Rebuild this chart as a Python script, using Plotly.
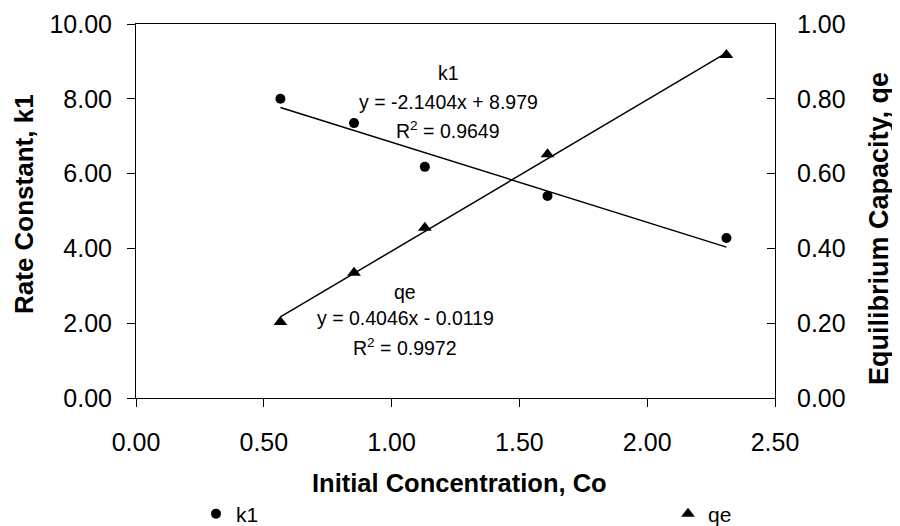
import plotly.graph_objects as go

# ---- data ----
conc = [0.565, 0.853, 1.13, 1.61, 2.31]
k1_values = [8.00, 7.35, 6.18, 5.40, 4.28]
qe_values = [0.203, 0.335, 0.455, 0.652, 0.917]

k1_slope, k1_intercept, k1_r2 = -2.1404, 8.979, 0.9649
qe_slope, qe_intercept, qe_r2 = 0.4046, -0.0119, 0.9972

x_title = "Initial Concentration, Co"
y_title = "Rate Constant, k1"
y2_title = "Equilibrium Capacity, qe"

FONT = "Liberation Sans, Arial, sans-serif"

x_fit = [min(conc), max(conc)]
k1_fit = [k1_slope * x + k1_intercept for x in x_fit]
qe_fit = [qe_slope * x + qe_intercept for x in x_fit]

fig = go.Figure()
fig.add_trace(go.Scatter(x=x_fit, y=k1_fit, mode="lines", line=dict(color="black", width=1.5),
                         showlegend=False, hoverinfo="skip"))
fig.add_trace(go.Scatter(x=x_fit, y=qe_fit, mode="lines", line=dict(color="black", width=1.5),
                         showlegend=False, hoverinfo="skip", yaxis="y2"))
fig.add_trace(go.Scatter(x=conc, y=k1_values, mode="markers", name="k1",
                         marker=dict(symbol="circle", size=10, color="black"), legend="legend"))
fig.add_trace(go.Scatter(x=conc, y=qe_values, mode="markers", name="qe", yaxis="y2",
                         marker=dict(symbol="triangle-up", size=12, color="black"), legend="legend2"))

def fmt(v):
    return f"- {abs(v)}" if v < 0 else f"+ {v}"

ann_font = dict(family=FONT, size=19.5, color="black")
annotations = [
    dict(x=0.489, y=(398 - 73) / 374, text="k1"),
    dict(x=0.489, y=(398 - 102) / 374, text=f"y = {k1_slope}x {fmt(k1_intercept)}"),
    dict(x=0.489, y=(398 - 130) / 374, text=f"R<sup>2</sup> = {k1_r2}"),
    dict(x=0.421, y=(398 - 292) / 374, text="qe"),
    dict(x=0.421, y=(398 - 318) / 374, text=f"y = {qe_slope}x {fmt(qe_intercept)}"),
    dict(x=0.421, y=(398 - 347) / 374, text=f"R<sup>2</sup> = {qe_r2}"),
]
for a in annotations:
    a.update(xref="paper", yref="paper", showarrow=False, xanchor="center", yanchor="middle", font=ann_font)

annotations += [
    dict(x=(459 - 136) / 639, y=(398 - 483) / 374, xref="paper", yref="paper", showarrow=False,
         text=f"<b>{x_title}</b>", font=dict(family=FONT, size=25.5, color="black"),
         xanchor="center", yanchor="middle"),
    dict(x=(24 - 136) / 639, y=(398 - 204) / 374, xref="paper", yref="paper", showarrow=False,
         text=f"<b>{y_title}</b>", font=dict(family=FONT, size=26, color="black"),
         textangle=-90, xanchor="center", yanchor="middle"),
    dict(x=(879 - 136) / 639, y=(398 - 228) / 374, xref="paper", yref="paper", showarrow=False,
         text=f"<b>{y2_title}</b>", font=dict(family=FONT, size=27, color="black"),
         textangle=-90, xanchor="center", yanchor="middle"),
]

tick_font = dict(family=FONT, size=25, color="black")
# page body has an 8px margin, so the figure is 8px smaller and offset accordingly
fig.update_layout(
    width=892, height=518,
    margin=dict(l=128, r=125, t=16, b=128, autoexpand=False),
    paper_bgcolor="white", plot_bgcolor="white",
    font=dict(family=FONT, color="black"),
    xaxis=dict(range=[0, 2.5], dtick=0.5, tick0=0, tickformat=".2f", showgrid=False, zeroline=False,
               showline=True, linecolor="black", linewidth=1, mirror=True, automargin=False,
               ticks="outside", ticklen=8, tickcolor="black", tickfont=tick_font, ticklabelstandoff=14),
    yaxis=dict(range=[0, 10], dtick=2, tick0=0, tickformat=".2f", showgrid=False, zeroline=False,
               showline=True, linecolor="black", linewidth=1, automargin=False,
               ticks="outside", ticklen=8, tickcolor="black", tickfont=tick_font, ticklabelstandoff=10),
    yaxis2=dict(range=[0, 1], dtick=0.2, tick0=0, tickformat=".2f", showgrid=False, zeroline=False,
                overlaying="y", side="right", automargin=False,
                showline=True, linecolor="black", linewidth=1,
                ticks="inside", ticklen=8, tickcolor="black", tickfont=tick_font, ticklabelstandoff=16),
    legend=dict(x=(196 - 136) / 639, y=(398 - 514) / 374, xanchor="left", yanchor="middle",
                font=dict(family=FONT, size=21, color="black"), bgcolor="rgba(0,0,0,0)", itemwidth=30),
    legend2=dict(x=(668 - 136) / 639, y=(398 - 514) / 374, xanchor="left", yanchor="middle",
                 font=dict(family=FONT, size=21, color="black"), bgcolor="rgba(0,0,0,0)", itemwidth=30),
    annotations=annotations,
)

fig.write_html("out.html")
